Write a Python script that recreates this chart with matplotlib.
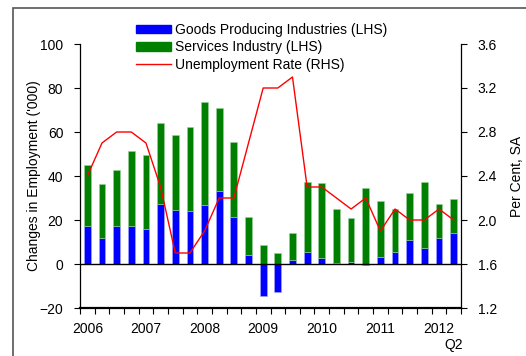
import matplotlib
matplotlib.use("Agg")
import matplotlib.pyplot as plt
import numpy as np
from matplotlib.patches import Rectangle
from matplotlib.lines import Line2D

plt.rcParams['font.family'] = ['Liberation Sans', 'DejaVu Sans']

quarters = ["2006Q1", "2006Q2", "2006Q3", "2006Q4", "2007Q1", "2007Q2", "2007Q3", "2007Q4",
            "2008Q1", "2008Q2", "2008Q3", "2008Q4", "2009Q1", "2009Q2", "2009Q3", "2009Q4",
            "2010Q1", "2010Q2", "2010Q3", "2010Q4", "2011Q1", "2011Q2", "2011Q3", "2011Q4",
            "2012Q1", "2012Q2"]
goods = [17.3, 12.0, 17.3, 17.3, 16.0, 27.5, 24.5, 23.9, 26.9, 33.1, 21.5, 3.9, -14.6, -12.8,
         1.6, 5.4, 2.8, 0.6, 1.0, -0.3, 3.0, 5.4, 10.8, 7.2, 11.7, 14.1]
services = [27.9, 24.4, 25.6, 34.0, 33.5, 36.8, 34.1, 38.4, 46.7, 38.0, 34.1, 17.3, 8.7, 5.0,
            12.5, 32.1, 33.8, 24.4, 19.8, 34.6, 25.5, 19.6, 21.6, 30.3, 15.8, 15.4]
unemp = [2.4, 2.7, 2.8, 2.8, 2.7, 2.3, 1.7, 1.7, 1.9, 2.2, 2.2, 2.7, 3.2, 3.2, 3.3, 2.3,
         2.3, 2.2, 2.1, 2.2, 1.9, 2.1, 2.0, 2.0, 2.1, 2.0]
year_labels = ["2006", "2007", "2008", "2009", "2010", "2011", "2012"]

W, H = 526, 356
fig = plt.figure(figsize=(W / 100, H / 100), dpi=100)
ax = fig.add_axes([80 / W, 1 - 308 / H, (461 - 80) / W, (308 - 44) / H])

x = np.arange(len(quarters))
g = np.array(goods)
s = np.array(services)
bw = 0.46
ax.bar(x, g, width=bw, color='#0000ff', edgecolor='#a8a8ff', linewidth=0.4, zorder=2)
ax.bar(x, s, width=bw, bottom=np.maximum(g, 0), color='#008000', edgecolor='#9ccf9c',
       linewidth=0.4, zorder=2)
ax.axhline(0, color='black', lw=1.0, zorder=3)

ax.set_xlim(-0.5, len(quarters) - 0.5)
ax.set_ylim(-20, 100)
ax.set_yticks(np.arange(-20, 101, 20))
ax.set_xticks(np.arange(-0.5, len(quarters), 1))
ax.set_xticklabels([])
ax.set_xticks(np.arange(0, len(quarters), 4), minor=True)
ax.set_xticklabels(year_labels, minor=True)
ax.tick_params(axis='x', which='major', direction='out', length=4, width=0.8)
ax.tick_params(axis='x', which='minor', length=0, pad=10, labelsize=10)
ax.tick_params(axis='y', direction='out', length=4, width=0.8, labelsize=10, pad=8)
ax.spines['top'].set_visible(False)
ax.spines['bottom'].set_linewidth(1.6)
ax.spines['left'].set_linewidth(0.9)
ax.spines['right'].set_visible(False)
ax.set_ylabel("Changes in Employment ('000)", fontsize=10, labelpad=-1)
ax.text(len(quarters) - 1, -0.113, "Q2", transform=ax.get_xaxis_transform(),
        ha='center', va='top', fontsize=10)

ax2 = ax.twinx()
ax2.plot(x, unemp, color='#ff0000', lw=1.0, zorder=4)
ax2.set_ylim(1.2, 3.6)
ax2.set_yticks(np.arange(1.2, 3.61, 0.4))
ax2.set_yticklabels([f"{v:.1f}" for v in np.arange(1.2, 3.61, 0.4)])
ax2.tick_params(axis='y', direction='out', length=4, width=0.8, labelsize=10, pad=8)
ax2.spines['top'].set_visible(False)
ax2.spines['left'].set_visible(False)
ax2.spines['bottom'].set_visible(False)
ax2.spines['right'].set_linewidth(0.9)
ax2.set_ylabel("Per Cent, SA", fontsize=10, labelpad=9)

handles = [Rectangle((0, 0), 1, 1, color='#0000ff'), Rectangle((0, 0), 1, 1, color='#008000'),
           Line2D([], [], color='#ff0000', lw=1.0)]
labels = ["Goods Producing Industries (LHS)", "Services Industry (LHS)", "Unemployment Rate (RHS)"]
fig.legend(handles, labels, loc='upper left', bbox_to_anchor=(136 / W, 1 - 23 / H),
           frameon=False, fontsize=10, handlelength=2.5, handleheight=0.55,
           handletextpad=0.3, labelspacing=0.25, borderaxespad=0, borderpad=0)

# outer frame (partially visible)
fig.add_artist(Rectangle((13 / W, -0.1), 1.2, 1 - 7.5 / H + 0.1, transform=fig.transFigure,
                         fill=False, edgecolor='#555555', lw=1.2))

fig.savefig("out.png", dpi=100)
